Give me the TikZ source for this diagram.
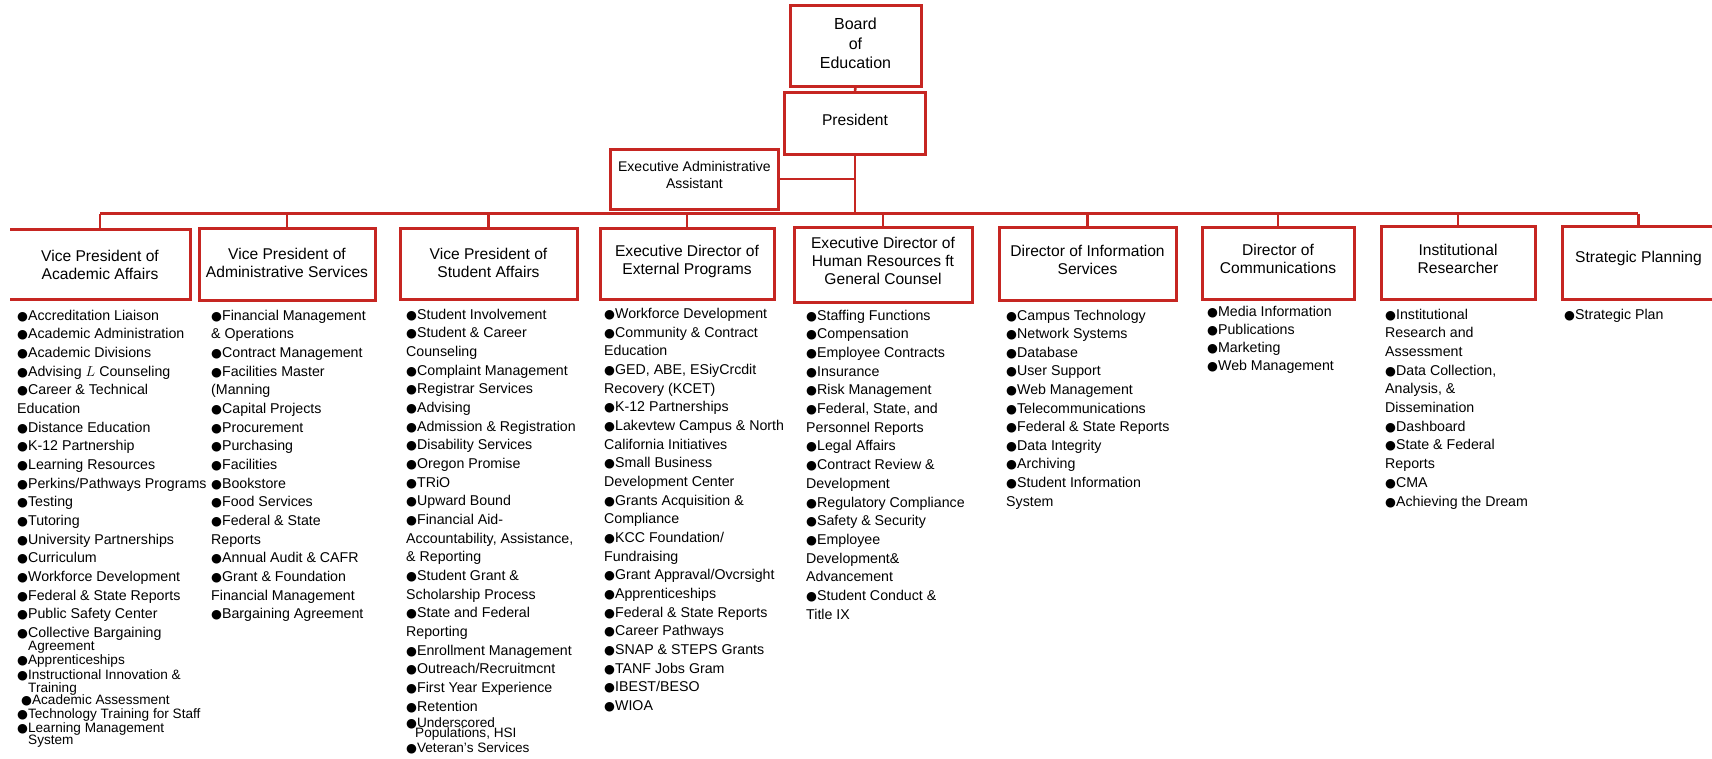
\documentclass[tikz,border=0pt]{standalone}
\usepackage{fontspec}
\usepackage{newunicodechar}
\setmainfont{Liberation Sans}
\newfontfamily\bulfont{DejaVu Sans}
\newunicodechar{●}{{\bulfont\fontsize{12.5}{12.5}\selectfont\char"25CF}}
\definecolor{ored}{RGB}{198,38,34}
\begin{document}
\begin{tikzpicture}[x=1pt,y=-1pt,
  box/.style={draw=ored, line width=3pt, inner sep=0pt, outer sep=0pt},
  nobox/.style={inner sep=0pt, outer sep=0pt},
  ttl/.style={align=center, inner sep=0pt, font=\fontsize{15.6}{18}\selectfont},
  conn/.style={draw=ored, line width=2.6pt},
  item/.style={anchor=base west, inner sep=0pt, font=\fontsize{14.2}{17}\selectfont},
  tail/.style={anchor=base west, inner sep=0pt, font=\fontsize{13.6}{15}\selectfont}]
\useasboundingbox (0,0) rectangle (1712,758);
\fill[white] (0,0) rectangle (1712,758);

% top boxes
\node[box, minimum width=131, minimum height=81] (board) at (855.5,45.5) {};
\node[align=center, inner sep=0pt, font=\fontsize{16}{19.5}\selectfont] (board-t) at ([yshift=2pt]board.center) {Board\\of\\Education};
\node[box, minimum width=140.6, minimum height=62.7] (pres) at (855,123.4) {};
\node[ttl] (pres-t) at ([yshift=3pt]pres.center) {President};
\node[box, minimum width=167.3, minimum height=60] (eaa) at (694.4,179) {};
\node[align=center, inner sep=0pt, font=\fontsize{14}{16.6}\selectfont] (eaa-t) at ([yshift=4pt]eaa.center) {Executive Administrative\\Assistant};

% second row boxes
\node[nobox, minimum width=180, minimum height=70] (vpa) at (100,264) {};
\draw[draw=ored, line width=3pt] (vpa.north west) -- (vpa.north east) -- (vpa.south east) -- (vpa.south west);
\node[ttl] (vpa-t) at ([yshift=-1pt]vpa.center) {Vice President of\\Academic Affairs};
\node[box, minimum width=176, minimum height=72] (vpb) at (287,264) {};
\node[ttl] (vpb-t) at ([yshift=1pt]vpb.center) {Vice President of\\Administrative Services};
\node[box, minimum width=177, minimum height=71] (vps) at (488.5,263.5) {};
\node[ttl] (vps-t) at ([yshift=1pt]vps.center) {Vice President of\\Student Affairs};
\node[box, minimum width=174, minimum height=71] (ext) at (687,263.5) {};
\node[ttl] (ext-t) at ([yshift=2pt]ext.center) {Executive Director of\\External Programs};
\node[box, minimum width=178, minimum height=75] (hr) at (883,264.5) {};
\node[ttl] (hr-t) at ([yshift=4pt]hr.center) {Executive Director of\\Human Resources ft\\General Counsel};
\node[box, minimum width=177, minimum height=73] (dis) at (1087.5,263.5) {};
\node[ttl] (dis-t) at ([yshift=4pt]dis.center) {Director of Information\\Services};
\node[box, minimum width=152, minimum height=72] (dcom) at (1278,263) {};
\node[ttl] (dcom-t) at ([yshift=4pt]dcom.center) {Director of\\Communications};
\node[box, minimum width=154, minimum height=73] (ires) at (1458,262.5) {};
\node[ttl] (ires-t) at ([yshift=4pt]ires.center) {Institutional\\Researcher};
\node[box, minimum width=153, minimum height=73] (strat) at (1638.5,262.5) {};
\node[ttl] (strat-t) at ([yshift=4pt]strat.center) {Strategic Planning};

% connectors
\coordinate (busL) at (100,213.5);
\coordinate (busR) at (1638,213.5);
\draw[conn] (board.south) -- (pres.north);
\draw[conn] (pres.south) -- (pres.south |- busL);
\draw[conn] (eaa.east) -- (eaa.east -| pres.south);
\draw[conn] (busL) -- (busR);
\foreach \b in {vpa,vpb,vps,ext,hr,dis,dcom,ires,strat}
  \draw[conn] (\b.north |- busL) -- (\b.north);

% column 1
\foreach \t [count=\i from 0] in {●Accreditation Liaison,●Academic Administration,●Academic Divisions,●Advising $L$ Counseling,●Career \& Technical,Education,●Distance Education,●K-12 Partnership,●Learning Resources,●Perkins/Pathways Programs,●Testing,●Tutoring,●University Partnerships,●Curriculum,●Workforce Development,●Federal \& State Reports,●Public Safety Center,●Collective Bargaining}
  \node[item] (a\i) at (17,{320+18.67*\i}) {\t};
\node[tail] (a18) at (28,650.3) {Agreement};
\node[tail] (a19) at (17,664.8) {●Apprenticeships};
\node[tail] (a20) at (17,679.8) {●Instructional Innovation \&};
\node[tail] (a21) at (28,692.3) {Training};
\node[tail] (a22) at (21,704) {●Academic Assessment};
\node[tail] (a23) at (17,718) {●Technology Training for Staff};
\node[tail] (a24) at (17,732) {●Learning Management};
\node[tail] (a25) at (28,744.7) {System};

% column 2
\foreach \t [count=\i from 0] in {●Financial Management,\& Operations,●Contract Management,●Facilities Master,{(Manning},●Capital Projects,●Procurement,●Purchasing,●Facilities,●Bookstore,●Food Services,●Federal \& State,Reports,●Annual Audit \& CAFR,●Grant \& Foundation,Financial Management,●Bargaining Agreement}
  \node[item] (b\i) at (211,{320+18.67*\i}) {\t};

% column 3
\foreach \t [count=\i from 0] in {●Student Involvement,●Student \& Career,Counseling,●Complaint Management,●Registrar Services,●Advising,●Admission \& Registration,●Disability Services,●Oregon Promise,●TRiO,●Upward Bound,●Financial Aid-,{Accountability, Assistance,},\& Reporting,●Student Grant \&,Scholarship Process,●State and Federal,Reporting,●Enrollment Management,●Outreach/Recruitmcnt,●First Year Experience,●Retention}
  \node[item] (c\i) at (406,{319+18.67*\i}) {\t};
\node[tail] (c22) at (406,727.2) {●Underscored};
\node[tail] (c23) at (415,737.8) {Populations, HSI};
\node[tail] (c24) at (406,752.8) {●Veteran's Services};

% column 4
\foreach \t [count=\i from 0] in {●Workforce Development,●Community \& Contract,Education,{●GED, ABE, ESiyCrcdit},{Recovery (KCET)},●K-12 Partnerships,●Lakevtew Campus \& North,California Initiatives,●Small Business,Development Center,●Grants Acquisition \&,Compliance,●KCC Foundation/,Fundraising,●Grant Appraval/Ovcrsight,●Apprenticeships,●Federal \& State Reports,●Career Pathways,●SNAP \& STEPS Grants,●TANF Jobs Gram,●IBEST/BESO,●WIOA}
  \node[item] (d\i) at (604,{318.5+18.67*\i}) {\t};

% column 5
\foreach \t [count=\i from 0] in {●Staffing Functions,●Compensation,●Employee Contracts,●Insurance,●Risk Management,{●Federal, State, and},Personnel Reports,●Legal Affairs,●Contract Review \&,Development,●Regulatory Compliance,●Safety \& Security,●Employee,Development\&,Advancement,●Student Conduct \&,Title IX}
  \node[item] (e\i) at (806,{320+18.7*\i}) {\t};

% column 6
\foreach \t [count=\i from 0] in {●Campus Technology,●Network Systems,●Database,●User Support,●Web Management,●Telecommunications,●Federal \& State Reports,●Data Integrity,●Archiving,●Student Information,System}
  \node[item] (f\i) at (1006,{320+18.6*\i}) {\t};

% column 7
\foreach \t [count=\i from 0] in {●Media Information,●Publications,●Marketing,●Web Management}
  \node[item] (g\i) at (1207,{316+18.3*\i}) {\t};

% column 8
\foreach \t [count=\i from 0] in {●Institutional,Research and,Assessment,{●Data Collection,},{Analysis, \&},Dissemination,●Dashboard,●State \& Federal,Reports,●CMA,●Achieving the Dream}
  \node[item] (h\i) at (1385,{319+18.7*\i}) {\t};

% column 9
\node[item] (i0) at (1564,319) {●Strategic Plan};
\end{tikzpicture}
\end{document}
